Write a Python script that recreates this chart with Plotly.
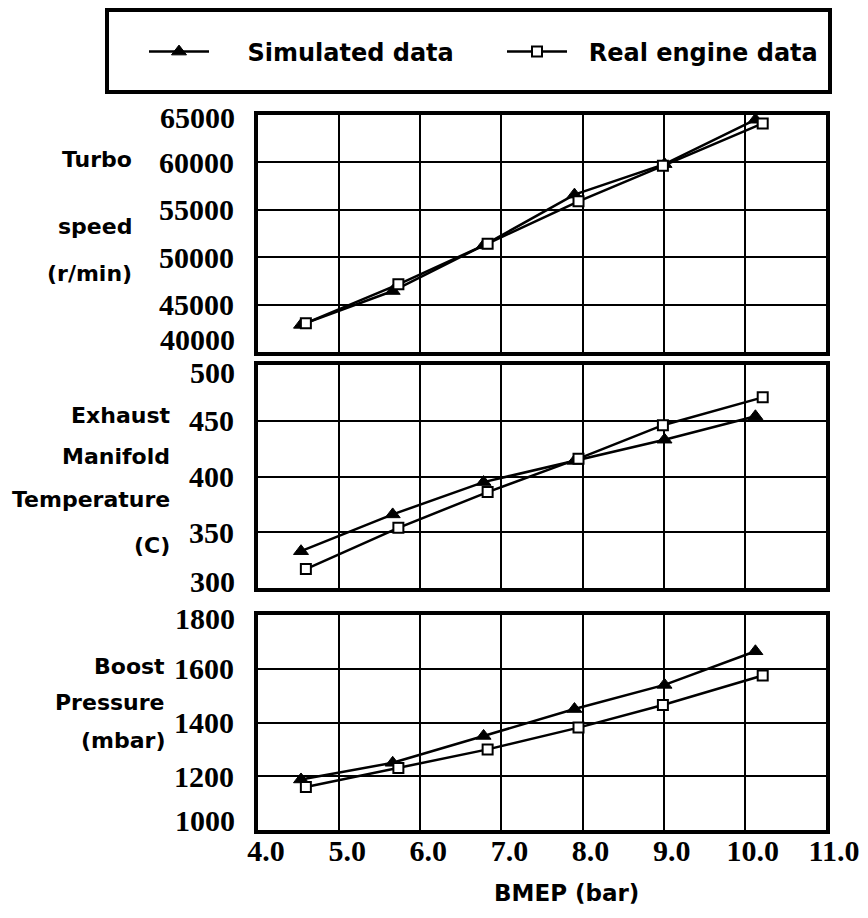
import plotly.graph_objects as go

# ---- data ----
bmep_sim = [4.53, 5.66, 6.78, 7.90, 9.01, 10.13]
bmep_real = [4.59, 5.73, 6.83, 7.95, 8.99, 10.22]

turbo_sim = [42860, 46430, 51250, 56600, 59820, 64500]
turbo_real = [43040, 47140, 51430, 55890, 59640, 64110]

exhaust_sim = [333, 366, 395, 414, 433, 454]
exhaust_real = [317, 354, 386, 416, 446, 471]

boost_sim = [1188, 1250, 1350, 1450, 1540, 1665]
boost_real = [1160, 1231, 1300, 1381, 1465, 1575]

x_ticks = [4, 5, 6, 7, 8, 9, 10, 11]
x_ticktext = ["4.0", "5.0", "6.0", "7.0", "8.0", "9.0", "10.0", "11.0"]
turbo_ticks = [40000, 45000, 50000, 55000, 60000, 65000]
exhaust_ticks = [300, 350, 400, 450, 500]
boost_ticks = [1000, 1200, 1400, 1600, 1800]

series_names = ["\u00a0\u00a0\u00a0\u00a0Simulated data", "\u00a0\u00a0Real engine data"]

# page has an 8px body margin, so the figure is 860x910 placed at (8,8)
OFF = 8
W, H = 860, 910
TICKFONT = dict(family="Liberation Serif", size=30, color="black", weight="bold")
LABFONT = dict(family="DejaVu Sans", size=22, color="black", weight="bold")
LEGFONT = dict(family="DejaVu Sans", size=24, color="black", weight="bold")

def px_x(p):
    return (p - OFF) / W

def px_y(p):
    return 1 - (p - OFF) / H

XDOM = [px_x(258), px_x(826)]
DOMS = [[px_y(352), px_y(115)], [px_y(588), px_y(365)], [px_y(830), px_y(615)]]

fig = go.Figure()

panels = [
    (turbo_sim, turbo_real, turbo_ticks),
    (exhaust_sim, exhaust_real, exhaust_ticks),
    (boost_sim, boost_real, boost_ticks),
]

for i, (ys, yr, ticks) in enumerate(panels):
    xa = "x" if i == 0 else f"x{i+1}"
    ya = "y" if i == 0 else f"y{i+1}"
    fig.add_trace(go.Scatter(
        x=bmep_sim, y=ys, mode="lines+markers", name=series_names[0],
        line=dict(color="black", width=2.5),
        marker=dict(symbol="triangle-up", size=13, color="black",
                    line=dict(color="black", width=1)),
        xaxis=xa, yaxis=ya, showlegend=(i == 0), legendrank=1))
    fig.add_trace(go.Scatter(
        x=bmep_real, y=yr, mode="lines+markers", name=series_names[1],
        line=dict(color="black", width=2.5),
        marker=dict(symbol="square", size=10, color="white",
                    line=dict(color="black", width=2)),
        xaxis=xa, yaxis=ya, showlegend=(i == 0), legendrank=2))

layout = dict(
    width=W, height=H,
    margin=dict(l=0, r=0, t=0, b=0),
    paper_bgcolor="white", plot_bgcolor="white",
    template="none",
    showlegend=True,
    legend=dict(orientation="h", x=px_x(144), y=px_y(52), xanchor="left",
                yanchor="middle", bgcolor="rgba(0,0,0,0)", borderwidth=0,
                font=LEGFONT, itemwidth=60, entrywidth=283,
                entrywidthmode="pixels", traceorder="normal"),
)

for i, (ys, yr, ticks) in enumerate(panels):
    xk = "xaxis" if i == 0 else f"xaxis{i+1}"
    yk = "yaxis" if i == 0 else f"yaxis{i+1}"
    ya = "y" if i == 0 else f"y{i+1}"
    xa = "x" if i == 0 else f"x{i+1}"
    layout[xk] = dict(
        domain=XDOM, anchor=ya, range=[4, 11], tickvals=x_ticks,
        ticktext=x_ticktext, showticklabels=(i == 2), tickfont=TICKFONT,
        ticks="", showgrid=True, gridcolor="black", gridwidth=2,
        showline=True, linecolor="black", linewidth=4, mirror=True,
        zeroline=False, automargin=False, ticklabelshift=8,
        ticklabelstandoff=-9, fixedrange=True)
    labels = [str(t) for t in ticks]
    labels[0] = ""
    labels[-1] = ""
    layout[yk] = dict(
        domain=DOMS[i], anchor=xa, range=[ticks[0], ticks[-1]],
        tickvals=ticks, ticktext=labels, tickfont=TICKFONT, ticks="",
        showgrid=True, gridcolor="black", gridwidth=2,
        showline=True, linecolor="black", linewidth=4, mirror=True,
        zeroline=False, automargin=False, ticklabelstandoff=14,
        fixedrange=True)

fig.update_layout(**layout)

annotations = []
# end tick labels, nudged inward as in the reference
end_shifts = [(-2, 13), (-8, 7), (-3, 10)]
for i, (ys, yr, ticks) in enumerate(panels):
    yref = "y" if i == 0 else f"y{i+1}"
    top_shift, bot_shift = end_shifts[i]
    annotations.append(dict(x=px_x(237), xref="paper", y=ticks[-1], yref=yref,
                            text=str(ticks[-1]), showarrow=False, xanchor="right",
                            yanchor="middle", yshift=top_shift, font=TICKFONT))
    annotations.append(dict(x=px_x(237), xref="paper", y=ticks[0], yref=yref,
                            text=str(ticks[0]), showarrow=False, xanchor="right",
                            yanchor="middle", yshift=bot_shift, font=TICKFONT))

# y-axis titles (each line placed separately, right aligned)
title_lines = [
    (["Turbo", "speed", "(r/min)"], 134, [160, 226, 273]),
    (["Exhaust", "Manifold", "Temperature", "(C)"], 172, [416, 456, 500, 545]),
    (["Boost", "Pressure", "(mbar)"], 167, [666, 702, 740]),
]
for lines, xr, ys in title_lines:
    for t, yy in zip(lines, ys):
        annotations.append(dict(x=px_x(xr), xref="paper", y=px_y(yy), yref="paper",
                                text=t, showarrow=False, xanchor="right",
                                yanchor="middle", font=LABFONT))

annotations.append(dict(x=px_x(566), xref="paper", y=px_y(893), yref="paper",
                        text="BMEP (bar)", showarrow=False, xanchor="center",
                        yanchor="middle", font=dict(LABFONT, size=23)))

fig.update_layout(annotations=annotations)

# legend frame
fig.add_shape(type="rect", xref="paper", yref="paper",
              x0=px_x(107), x1=px_x(830), y0=px_y(92), y1=px_y(10),
              line=dict(color="black", width=4), fillcolor="rgba(0,0,0,0)")

fig.write_html("out.html")
